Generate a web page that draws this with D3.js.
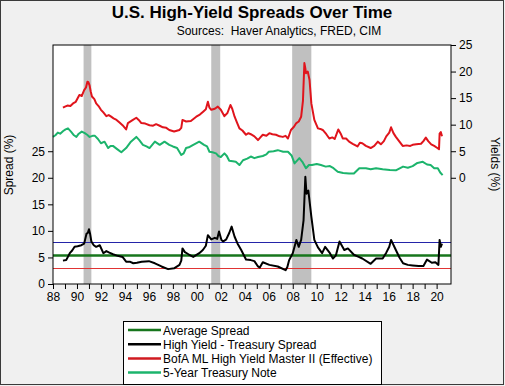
<!DOCTYPE html>
<html>
<head>
<meta charset="utf-8">
<script src="https://cdn.jsdelivr.net/npm/d3@7"></script>
<style>
  body { margin: 0; background: #f0f0f0; }
  text { font-family: "Liberation Sans", Arial, sans-serif; }
</style>
</head>
<body>
<div id="chart"></div>
<script>
// chart size
const WIDTH = 505;
const HEIGHT = 386;
const PLOT = {left: 53, right: 451, top: 45, bottom: 284};

// recession bands (decimal years)
const recessions = [[1990.55, 1991.2], [2001.2, 2001.95], [2007.95, 2009.55]];

// reference lines on the spread axis
const avgSpread = 5.5;
const upperBand = 8.0;
const lowerBand = 3.1;

// BofA ML High Yield Master II effective yield (right axis)
const hyDates = [1988.83, 1989.0, 1989.2, 1989.45, 1989.67, 1989.9, 1990.2, 1990.4, 1990.6, 1990.75, 1990.87,
  1990.95, 1991.05, 1991.15, 1991.25, 1991.45, 1991.6, 1991.8, 1992.0, 1992.2, 1992.45, 1992.65, 1992.85,
  1993.05, 1993.3, 1993.55, 1993.8, 1994.1, 1994.25, 1994.6, 1994.95, 1995.15, 1995.37, 1995.7, 1996.05,
  1996.35, 1996.6, 1996.9, 1997.17, 1997.45, 1997.7, 1998.1, 1998.55, 1998.7, 1998.8, 1999.1, 1999.5,
  1999.95, 2000.25, 2000.5, 2000.75, 2000.92, 2001.05, 2001.2, 2001.5, 2001.75, 2002.0, 2002.3, 2002.55,
  2002.8, 2002.95, 2003.15, 2003.35, 2003.55, 2003.8, 2004.1, 2004.3, 2004.5, 2004.8, 2005.1, 2005.3,
  2005.5, 2005.8, 2006.05, 2006.3, 2006.6, 2006.9, 2007.17, 2007.4, 2007.6, 2007.85, 2008.1, 2008.3,
  2008.5, 2008.7, 2008.85, 2008.97, 2009.05, 2009.1, 2009.25, 2009.4, 2009.55, 2009.8, 2010.1, 2010.3,
  2010.5, 2010.8, 2011.05, 2011.3, 2011.5, 2011.8, 2012.0, 2012.17, 2012.45, 2012.7, 2013.0, 2013.4,
  2013.6, 2013.8, 2014.1, 2014.5, 2014.8, 2015.1, 2015.35, 2015.6, 2015.8, 2016.05, 2016.2, 2016.4,
  2016.6, 2016.9, 2017.17, 2017.5, 2017.8, 2018.0, 2018.3, 2018.7, 2018.9, 2019.1, 2019.3, 2019.55,
  2019.8, 2020.0, 2020.2, 2020.25, 2020.35, 2020.45];
const hyYield = [13.2, 13.4, 13.6, 13.5, 14.0, 14.3, 15.6, 15.4, 16.5, 17.0, 18.1,
  18.0, 17.4, 16.2, 15.3, 14.8, 14.0, 13.5, 12.8, 12.3, 11.6, 11.8, 11.5,
  11.2, 10.9, 10.4, 9.9, 9.1, 10.3, 10.8, 11.3, 10.9, 10.3, 10.2, 9.9,
  9.8, 10.1, 9.8, 9.5, 9.4, 9.0, 8.7, 9.0, 9.4, 10.9, 10.6, 10.7,
  11.5, 11.9, 12.4, 12.9, 14.3, 13.2, 12.8, 13.0, 13.4, 12.8, 11.6, 12.2,
  13.7, 13.0, 11.5, 10.4, 9.3, 8.9, 8.1, 8.4, 8.2, 7.8, 7.1, 7.6,
  8.1, 7.9, 8.4, 8.2, 8.1, 7.8, 7.7, 7.9, 7.4, 9.0, 9.6, 10.3,
  10.6, 11.5, 14.5, 21.6, 20.6, 19.7, 20.0, 18.4, 14.0, 10.9, 9.3, 9.2,
  9.0, 8.2, 7.4, 7.6, 7.3, 9.1, 8.3, 7.4, 7.4, 6.8, 6.4, 5.9,
  6.6, 6.5, 6.0, 5.6, 6.0, 6.8, 6.3, 6.9, 7.8, 8.5, 9.5, 8.4,
  7.7, 6.8, 6.0, 6.1, 6.0, 6.2, 6.3, 6.4, 6.9, 7.55, 6.9, 6.3,
  6.0, 5.7, 5.4, 8.3, 8.6, 7.8];

// 5-year Treasury note yield (right axis)
const tsyDates = [1988.0, 1988.2, 1988.4, 1988.6, 1988.85, 1989.05, 1989.25, 1989.5, 1989.75, 1989.95,
  1990.15, 1990.4, 1990.65, 1990.85, 1991.05, 1991.3, 1991.5, 1991.75, 1992.0, 1992.3, 1992.6, 1992.8,
  1993.0, 1993.35, 1993.7, 1994.1, 1994.5, 1994.95, 1995.2, 1995.5, 1995.8, 1996.05, 1996.5, 1996.9,
  1997.3, 1997.7, 1998.0, 1998.35, 1998.7, 1998.9, 1999.1, 1999.4, 1999.7, 2000.2, 2000.6, 2000.85,
  2001.05, 2001.3, 2001.6, 2001.8, 2002.0, 2002.3, 2002.5, 2002.7, 2003.0, 2003.25, 2003.55, 2003.85,
  2004.2, 2004.5, 2004.8, 2005.1, 2005.5, 2005.8, 2006.0, 2006.4, 2006.75, 2007.2, 2007.6, 2007.9,
  2008.15, 2008.55, 2008.8, 2009.1, 2009.35, 2009.6, 2010.0, 2010.35, 2010.75, 2011.1, 2011.4, 2011.75,
  2012.2, 2012.7, 2013.1, 2013.55, 2014.1, 2014.5, 2014.95, 2015.5, 2016.1, 2016.6, 2017.2, 2017.6,
  2018.0, 2018.4, 2018.85, 2019.2, 2019.5, 2019.8, 2020.1, 2020.3, 2020.5];
const tsyYield = [7.7, 8.0, 8.5, 8.3, 8.8, 9.1, 9.3, 8.7, 8.0, 7.7,
  8.3, 8.7, 8.4, 8.1, 7.7, 7.9, 7.9, 7.3, 6.5, 6.8, 5.6, 6.0,
  6.0, 5.4, 4.8, 5.6, 6.8, 7.7, 7.1, 6.2, 5.9, 5.6, 6.8, 6.2,
  6.8, 6.2, 5.9, 5.6, 4.3, 4.6, 5.6, 5.8, 6.2, 6.8, 6.2, 5.9,
  4.9, 4.8, 4.6, 4.1, 3.9, 4.6, 4.1, 3.2, 3.1, 3.0, 2.4, 3.3,
  3.6, 4.0, 3.7, 3.9, 4.1, 4.4, 4.9, 5.0, 5.2, 4.9, 4.9, 4.2,
  2.7, 3.7, 3.0, 1.8, 2.4, 2.4, 2.6, 2.4, 2.1, 2.2, 1.8, 1.15,
  0.9, 0.8, 0.8, 1.8, 1.8, 1.6, 1.8, 1.6, 1.45, 1.4, 2.1, 1.9,
  2.2, 2.8, 3.0, 2.5, 2.4, 1.8, 1.8, 1.0, 0.5];

// high yield - treasury spread (left axis)
const sprDates = [1988.83, 1989.1, 1989.4, 1989.6, 1989.8, 1990.05, 1990.37, 1990.6, 1990.8, 1990.9, 1991.0,
  1991.1, 1991.2, 1991.4, 1991.6, 1991.9, 1992.2, 1992.45, 1992.7, 1993.0, 1993.4, 1993.8, 1994.1,
  1994.4, 1994.7, 1995.0, 1995.4, 1996.0, 1996.5, 1997.05, 1997.6, 1998.1, 1998.55, 1998.7, 1998.8,
  1999.0, 1999.3, 1999.7, 2000.2, 2000.5, 2000.75, 2000.92, 2001.2, 2001.5, 2001.7, 2001.85, 2002.05,
  2002.2, 2002.45, 2002.7, 2002.9, 2003.15, 2003.4, 2003.7, 2004.1, 2004.5, 2004.8, 2005.1, 2005.25,
  2005.5, 2006.05, 2006.75, 2007.4, 2007.55, 2007.7, 2008.0, 2008.3, 2008.5, 2008.7, 2008.9, 2009.05,
  2009.15, 2009.3, 2009.55, 2009.8, 2010.1, 2010.45, 2010.7, 2011.1, 2011.35, 2011.6, 2011.9, 2012.3,
  2012.6, 2013.1, 2013.5, 2013.8, 2014.5, 2014.95, 2015.5, 2015.8, 2016.05, 2016.2, 2016.6, 2016.9,
  2017.2, 2017.6, 2018.0, 2018.5, 2018.9, 2019.2, 2019.6, 2019.9, 2020.15, 2020.25, 2020.35, 2020.45];
const spread = [4.4, 4.5, 5.8, 6.3, 7.0, 7.1, 7.3, 7.6, 9.5, 9.6, 10.3,
  9.4, 8.0, 7.3, 7.0, 7.3, 5.8, 6.2, 5.9, 5.6, 5.3, 5.1, 4.2,
  4.2, 3.9, 4.0, 4.2, 4.3, 3.9, 3.3, 2.8, 2.95, 3.6, 4.4, 6.7,
  6.0, 5.6, 5.1, 5.8, 6.4, 7.2, 9.2, 8.4, 8.7, 8.5, 9.9, 8.3,
  8.0, 8.4, 9.6, 10.8, 8.9, 7.6, 6.4, 4.6, 4.5, 4.3, 3.3, 3.1,
  4.1, 3.6, 3.3, 2.6, 3.2, 4.5, 5.8, 8.3, 7.0, 8.3, 12.0, 20.2,
  17.0, 17.6, 12.7, 8.3, 6.9, 5.8, 7.0, 5.8, 4.8, 5.4, 8.0, 6.4,
  6.7, 5.5, 5.1, 4.8, 3.8, 4.8, 4.8, 5.9, 7.0, 8.3, 6.4, 5.0,
  3.9, 3.6, 3.5, 3.4, 3.4, 4.6, 4.0, 4.1, 3.6, 8.3, 7.0, 7.6];

const xTickYears = d3.range(1988, 2021);
const yTicks = [0, 5, 10, 15, 20, 25];

// legend entries
const legendLabels = ["Average Spread", "High Yield - Treasury Spread",
  "BofA ML High Yield Master II (Effective)", "5-Year Treasury Note"];
const legendColors = ["#17761c", "#000000", "#d01a20", "#1cb46c"];

const svg = d3.select("#chart")
  .append("svg")
    .attr("width", WIDTH)
    .attr("height", HEIGHT);

// outer frame
svg.append("rect")
    .attr("x", 0.5).attr("y", 0.5)
    .attr("width", WIDTH - 2).attr("height", HEIGHT - 2)
    .attr("fill", "#f0f0f0")
    .attr("stroke", "#3a3a3a");

// scales
const x = d3.scaleLinear().domain([1988, 2021.2]).range([PLOT.left, PLOT.right]);
const yLeft = d3.scaleLinear().domain([0, 45]).range([PLOT.bottom, PLOT.top]);
const yRight = d3.scaleLinear().domain([-20, 25]).range([PLOT.bottom, PLOT.top]);

// plot background
svg.append("rect")
    .attr("x", PLOT.left).attr("y", PLOT.top)
    .attr("width", PLOT.right - PLOT.left).attr("height", PLOT.bottom - PLOT.top)
    .attr("fill", "#ffffff");

// recession shading
svg.selectAll("rect.recession")
  .data(recessions)
  .enter()
  .append("rect")
    .attr("class", "recession")
    .attr("x", (d) => x(d[0]))
    .attr("width", (d) => x(d[1]) - x(d[0]))
    .attr("y", PLOT.top)
    .attr("height", PLOT.bottom - PLOT.top)
    .attr("fill", "#c0c0c0");

// horizontal reference lines
function hLine(v, color, width) {
  const yy = Math.round(yLeft(v)) + 0.5;
  svg.append("line")
      .attr("x1", PLOT.left).attr("x2", PLOT.right)
      .attr("y1", yy).attr("y2", yy)
      .attr("stroke", color)
      .attr("stroke-width", width);
}
hLine(upperBand, "#2424a8", 1);
hLine(lowerBand, "#e03434", 1);
hLine(avgSpread, "#17761c", 2.5);

// series lines
function drawSeries(dates, values, yScale, color) {
  const line = d3.line()
    .x((d, i) => x(dates[i]))
    .y((d) => yScale(d));
  svg.append("path")
      .datum(values)
      .attr("d", line)
      .attr("fill", "none")
      .attr("stroke", color)
      .attr("stroke-width", 2)
      .attr("stroke-linejoin", "round");
}
drawSeries(hyDates, hyYield, yRight, "#e0141c");
drawSeries(tsyDates, tsyYield, yRight, "#1cb46c");
drawSeries(sprDates, spread, yLeft, "#000000");

// plot border
svg.append("rect")
    .attr("x", PLOT.left).attr("y", PLOT.top)
    .attr("width", PLOT.right - PLOT.left).attr("height", PLOT.bottom - PLOT.top)
    .attr("fill", "none")
    .attr("stroke", "#000");

// axes
const xAxis = d3.axisBottom(x)
  .tickValues(xTickYears)
  .tickSize(5)
  .tickFormat((d) => (d % 2 === 0 ? String(d % 100).padStart(2, "0") : ""));
svg.append("g")
    .attr("transform", "translate(0," + PLOT.bottom + ")")
    .call(xAxis);

svg.append("g")
    .attr("transform", "translate(" + PLOT.left + ",0)")
    .call(d3.axisLeft(yLeft).tickValues(yTicks).tickSize(5));

svg.append("g")
    .attr("transform", "translate(" + PLOT.right + ",0)")
    .call(d3.axisRight(yRight).tickValues(yTicks).tickSize(5));

svg.selectAll(".domain").remove();
svg.selectAll(".tick line").attr("stroke", "#000");
svg.selectAll(".tick text")
    .attr("font-size", 12)
    .attr("fill", "#000")
    .style("font-family", "'Liberation Sans', Arial, sans-serif");

// titles
svg.append("text")
    .attr("x", 252).attr("y", 18)
    .attr("text-anchor", "middle")
    .attr("font-size", 17)
    .attr("font-weight", "bold")
    .text("U.S. High-Yield Spreads Over Time");

svg.append("text")
    .attr("x", 279).attr("y", 35)
    .attr("text-anchor", "middle")
    .attr("font-size", 12)
    .style("white-space", "pre")
    .text("Sources:  Haver Analytics, FRED, CIM");

svg.append("text")
    .attr("transform", "translate(13,165) rotate(-90)")
    .attr("text-anchor", "middle")
    .attr("font-size", 12)
    .text("Spread (%)");

svg.append("text")
    .attr("transform", "translate(491,164) rotate(90)")
    .attr("text-anchor", "middle")
    .attr("font-size", 12)
    .text("Yields (%)");

// legend
const legend = svg.append("g").attr("transform", "translate(123,321)");
legend.append("rect")
    .attr("x", 0.5).attr("y", 0.5)
    .attr("width", 258).attr("height", 63)
    .attr("fill", "#ffffff")
    .attr("stroke", "#000");

const items = legend.selectAll("g.item")
  .data(legendLabels)
  .enter()
  .append("g")
    .attr("class", "item")
    .attr("transform", (d, i) => "translate(0," + (9 + i * 14.2) + ")");

items.append("line")
    .attr("x1", 5).attr("x2", 38)
    .attr("y1", 0).attr("y2", 0)
    .attr("stroke", (d, i) => legendColors[i])
    .attr("stroke-width", 2.5);

items.append("text")
    .attr("x", 40).attr("y", 4.5)
    .attr("font-size", 12)
    .text((d) => d);
</script>
</body>
</html>
